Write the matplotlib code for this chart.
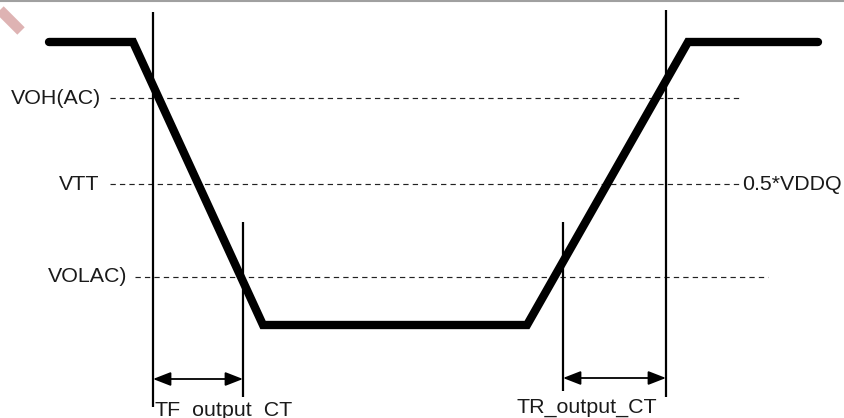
import matplotlib
matplotlib.use("Agg")
import matplotlib.pyplot as plt

# Waveform (time, level) in picture units
wave_t = [49, 133, 263, 527, 688, 818]
wave_v = [42, 42, 325, 325, 42, 42]

# Reference levels
level_names = ["VOH(AC)", "VTT", "VOLAC)"]
level_y = [98, 184, 277]
level_x0 = [110, 110, 135]
level_x1 = [740, 740, 768]
level_label_x = [101, 99, 127]

# Timing markers (x, y_top, y_bottom)
marker_x = [153, 243, 563, 666]
marker_top = [12, 222, 222, 10]
marker_bot = [407, 397, 391, 397]

# Interval arrows
interval_names = ["TF_output_CT", "TR_output_CT"]
interval_x0 = [153, 563]
interval_x1 = [243, 666]
interval_y = [379, 378]
interval_label_x = [155, 517]
interval_label_y = [416, 413]

W, H = 845, 418
fig = plt.figure(figsize=(W / 100, H / 100), dpi=100)
ax = fig.add_axes([0, 0, 1, 1])
ax.set_xlim(0, W)
ax.set_ylim(H, 0)
ax.axis("off")

font = dict(family=["Liberation Sans", "DejaVu Sans"], fontsize=15.4, color="#1a1a1a")

# top gray border line and watermark fragment
ax.plot([0, W], [1, 1], color="#a0a0a0", lw=1.5, solid_capstyle="butt")
ax.plot([0, 21], [10, 31], color="#deb3b3", lw=7.5, solid_capstyle="butt")

# dashed reference lines
for name, y, x0, x1, lx in zip(level_names, level_y, level_x0, level_x1, level_label_x):
    ax.plot([x0, x1], [y, y], color="#222222", lw=0.85, ls=(0, (4.5, 3.5)))
    ax.text(lx, y, name, ha="right", va="center", **font)
ax.text(742, level_y[1], "0.5*VDDQ", ha="left", va="center", **font)

# vertical markers
for x, t, b in zip(marker_x, marker_top, marker_bot):
    ax.plot([x, x], [t, b], color="black", lw=1.6, solid_capstyle="butt")

# waveform
ax.plot(wave_t, wave_v, color="black", lw=6, solid_capstyle="round", solid_joinstyle="miter")

# interval arrows and labels
for name, x0, x1, y, lx, ly in zip(interval_names, interval_x0, interval_x1, interval_y,
                                   interval_label_x, interval_label_y):
    ax.annotate("", xy=(x1, y), xytext=(x0, y),
                arrowprops=dict(arrowstyle="<|-|>,head_length=0.9,head_width=0.35",
                                color="black", lw=1.3, shrinkA=0, shrinkB=0,
                                mutation_scale=12))
    ax.text(lx, ly, name, ha="left", va="baseline", **font)

fig.savefig("out.png", dpi=100)
